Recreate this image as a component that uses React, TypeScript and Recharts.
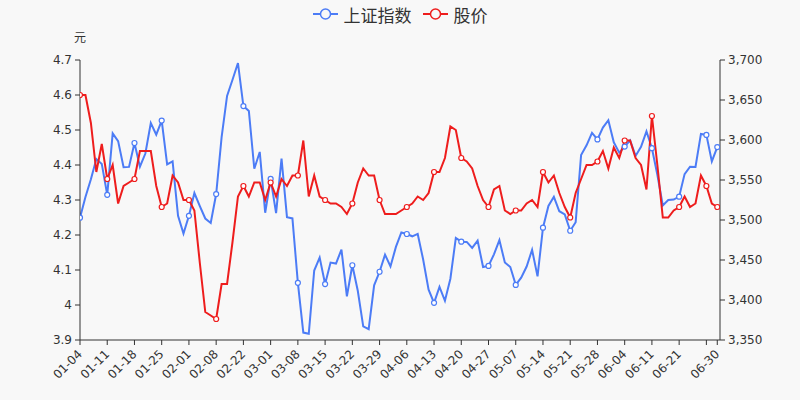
import React from 'react';
import { LineChart, Line, XAxis, YAxis, Legend } from 'recharts';

const dates = (
  '01-04 01-05 01-06 01-07 01-08 01-11 01-12 01-13 01-14 01-15 01-18 01-19 01-20 01-21 01-22 01-25 01-26 01-27 01-28 01-29 ' +
  '02-01 02-02 02-03 02-04 02-05 02-08 02-09 02-10 02-18 02-19 02-22 02-23 02-24 02-25 02-26 ' +
  '03-01 03-02 03-03 03-04 03-05 03-08 03-09 03-10 03-11 03-12 03-15 03-16 03-17 03-18 03-19 03-22 03-23 03-24 03-25 03-26 03-29 03-30 03-31 ' +
  '04-01 04-02 04-06 04-07 04-08 04-09 04-12 04-13 04-14 04-15 04-16 04-19 04-20 04-21 04-22 04-23 04-26 04-27 04-28 04-29 04-30 ' +
  '05-06 05-07 05-10 05-11 05-12 05-13 05-14 05-17 05-18 05-19 05-20 05-21 05-24 05-25 05-26 05-27 05-28 05-31 ' +
  '06-01 06-02 06-03 06-04 06-07 06-08 06-09 06-10 06-11 06-15 06-16 06-17 06-18 06-21 06-22 06-23 06-24 06-25 06-28 06-29 06-30'
).split(' ');

// 上证指数 (right axis)
const indexValues = [
  3502.96, 3528.68, 3550.88, 3576.2, 3570.11, 3531.5, 3608.34, 3598.65, 3565.9, 3566.38,
  3596.22, 3566.65, 3583.09, 3621.26, 3606.75, 3624.24, 3569.43, 3573.34, 3505.18, 3483.07,
  3505.28, 3533.68, 3517.31, 3501.86, 3496.33, 3532.44, 3603.49, 3655.09, 3675.36, 3696.17,
  3642.44, 3636.36, 3564.08, 3585.05, 3509.08, 3551.4, 3508.59, 3576.9, 3503.49, 3501.99,
  3421.41, 3359.29, 3357.74, 3436.83, 3453.08, 3419.95, 3446.73, 3445.55, 3463.07, 3404.66,
  3443.44, 3411.51, 3367.06, 3363.59, 3418.33, 3435.3, 3456.68, 3441.91, 3466.33, 3484.39,
  3482.49, 3479.63, 3482.56, 3450.68, 3412.95, 3396.47, 3416.37, 3398.99, 3426.62, 3477.55,
  3472.94, 3472.63, 3465.11, 3474.17, 3441.17, 3442.61, 3457.07, 3474.9, 3446.86, 3441.28,
  3418.87, 3427.99, 3441.85, 3462.75, 3429.54, 3490.38, 3517.62, 3529.01, 3510.96, 3506.94,
  3486.56, 3497.28, 3581.34, 3593.36, 3608.85, 3600.78, 3615.48, 3624.71, 3597.14, 3584.22,
  3591.84, 3599.54, 3580.11, 3591.4, 3610.86, 3589.75, 3556.56, 3518.33, 3525.1, 3525.6,
  3529.18, 3557.41, 3566.65, 3566.22, 3607.56, 3606.37, 3573.18, 3591.2,
];

// 股价 (left axis, 元)
const priceValues = [
  4.6, 4.6, 4.52, 4.38, 4.46, 4.36, 4.4, 4.29, 4.34, 4.35,
  4.36, 4.44, 4.44, 4.44, 4.34, 4.28, 4.29, 4.37, 4.35, 4.3,
  4.3, 4.27, 4.12, 3.98, 3.97, 3.96, 4.06, 4.06, 4.18, 4.31,
  4.34, 4.31, 4.35, 4.35, 4.3, 4.35, 4.31, 4.36, 4.34, 4.37,
  4.37, 4.47, 4.31, 4.37, 4.31, 4.3, 4.29, 4.29, 4.28, 4.26,
  4.29, 4.35, 4.39, 4.37, 4.37, 4.3, 4.26, 4.26, 4.26, 4.27,
  4.28, 4.29, 4.31, 4.3, 4.32, 4.38, 4.38, 4.42, 4.51, 4.5,
  4.42, 4.41, 4.39, 4.34, 4.3, 4.28, 4.33, 4.34, 4.27, 4.26,
  4.27, 4.27, 4.29, 4.3, 4.28, 4.38, 4.35, 4.37, 4.32, 4.28,
  4.25, 4.32, 4.36, 4.4, 4.4, 4.41, 4.44, 4.39, 4.45, 4.42,
  4.47, 4.47, 4.42, 4.4, 4.33, 4.54, 4.4, 4.25, 4.25, 4.27,
  4.28, 4.31, 4.28, 4.29, 4.37, 4.34, 4.29, 4.28,
];

const priceTicks = [3.9, 4.0, 4.1, 4.2, 4.3, 4.4, 4.5, 4.6, 4.7];
const indexTicks = [3350, 3400, 3450, 3500, 3550, 3600, 3650, 3700];

const BLUE = '#4c7cf6';
const RED = '#ee1d1d';
const FONT = "'DejaVu Sans', 'Noto Sans CJK SC', sans-serif";
const last = dates.length - 1;

const data = dates.map((d, i) => ({ idx: i, date: d, index: indexValues[i], price: priceValues[i] }));
const xTicks = dates.map((_, i) => i).filter((i) => i % 5 === 0).concat(last);

const makeDot = (color: string) => (props: any) => {
  const { cx, cy, index } = props;
  if (index % 5 !== 0 && index !== last) return <g key={`d-${index}`} />;
  return <circle key={`d-${index}`} cx={cx} cy={cy} r={2.5} fill="#fff" stroke={color} strokeWidth={1.2} />;
};

const XTick = (props: any) => {
  const { x, y, payload } = props;
  const i = payload.value;
  // 06-28 label is hidden in the original (overlaps 06-30)
  if (i === 115) return <g />;
  const ty = y + 5;
  return (
    <text
      x={x}
      y={ty}
      transform={`rotate(-45 ${x} ${ty})`}
      textAnchor="end"
      dominantBaseline="central"
      fontSize={12}
      fill="#333"
      fontFamily={FONT}
    >
      {dates[i]}
    </text>
  );
};

const legendItems = [
  { name: '上证指数', color: BLUE },
  { name: '股价', color: RED },
];

const LegendContent = () => (
  <div style={{ display: 'flex', justifyContent: 'center', alignItems: 'center', height: 28, fontFamily: FONT }}>
    {legendItems.map((item, k) => (
      <div key={item.name} style={{ display: 'flex', alignItems: 'center', marginLeft: k ? 11 : 0 }}>
        <svg width={25} height={14}>
          <line x1={0} y1={7} x2={25} y2={7} stroke={item.color} strokeWidth={2} />
          <circle cx={12.5} cy={7} r={5} fill="#f8f8f8" stroke={item.color} strokeWidth={1.5} />
        </svg>
        <span style={{ marginLeft: 6, fontSize: 17, color: '#333' }}>{item.name}</span>
      </div>
    ))}
  </div>
);

export default function App() {
  return (
    <div style={{ position: 'absolute', left: 0, top: 0, width: 800, height: 400, background: '#f8f8f8' }}>
      <LineChart width={800} height={400} data={data} margin={{ top: 32, right: 0, left: 0, bottom: 0 }}>
        <Legend
          verticalAlign="top"
          align="center"
          content={<LegendContent />}
          wrapperStyle={{ top: 0, left: 0, width: 800, height: 28 }}
        />
        <XAxis
          dataKey="idx"
          type="number"
          domain={[0, 117.5]}
          ticks={xTicks}
          interval={0}
          height={60}
          tick={<XTick />}
          tickSize={5}
          stroke="#333"
          allowDataOverflow
        />
        <YAxis
          yAxisId="left"
          orientation="left"
          width={80}
          domain={[3.9, 4.7]}
          ticks={priceTicks}
          interval={0}
          allowDataOverflow
          tickSize={5}
          tickMargin={3}
          stroke="#333"
          tick={{ fontSize: 12, fill: '#333', fontFamily: FONT }}
          tickFormatter={(v: number) => String(+v.toFixed(1))}
          label={{
            content: (p: any) => {
              const vb = p.viewBox || {};
              return (
                <text
                  x={vb.x + vb.width}
                  y={vb.y - 22}
                  textAnchor="middle"
                  dominantBaseline="central"
                  fontSize={12}
                  fill="#333"
                  fontFamily={FONT}
                >
                  元
                </text>
              );
            },
          }}
        />
        <YAxis
          yAxisId="right"
          orientation="right"
          width={80}
          domain={[3350, 3700]}
          ticks={indexTicks}
          interval={0}
          allowDataOverflow
          tickSize={5}
          tickMargin={3}
          stroke="#333"
          tick={{ fontSize: 12, fill: '#333', fontFamily: FONT }}
          tickFormatter={(v: number) => v.toLocaleString('en-US')}
        />
        <Line
          yAxisId="right"
          type="linear"
          dataKey="index"
          name="上证指数"
          stroke={BLUE}
          strokeWidth={2}
          dot={makeDot(BLUE)}
          activeDot={false}
          isAnimationActive={false}
        />
        <Line
          yAxisId="left"
          type="linear"
          dataKey="price"
          name="股价"
          stroke={RED}
          strokeWidth={2}
          dot={makeDot(RED)}
          activeDot={false}
          isAnimationActive={false}
        />
      </LineChart>
    </div>
  );
}
